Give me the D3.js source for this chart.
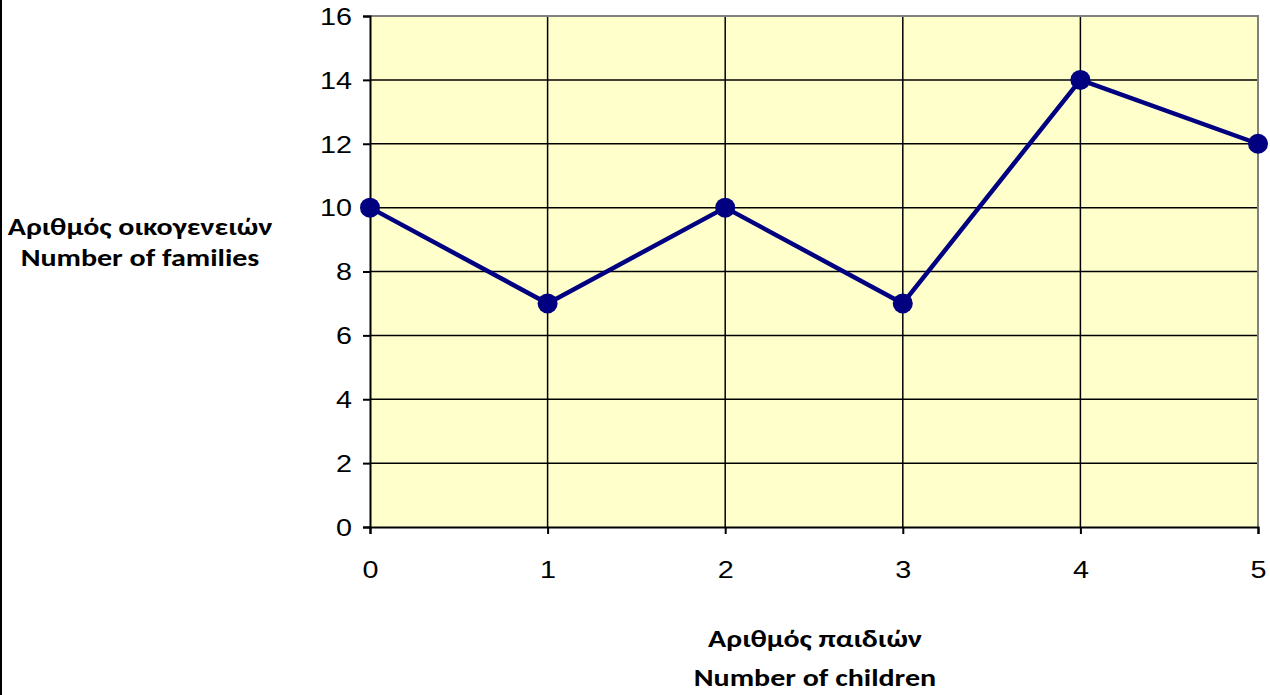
<!DOCTYPE html>
<html>
<head>
<meta charset="utf-8">
<script src="https://cdn.jsdelivr.net/npm/d3@7"></script>
<style>
  html, body { margin: 0; padding: 0; background: #fff; }
  svg { display: block; }
</style>
</head>
<body>
<svg id="chart" width="1270" height="695"></svg>
<script>
// Number of children per family (x) and how many families have that many (y)
const children = [0, 1, 2, 3, 4, 5];
const families = [10, 7, 10, 7, 14, 12];
const yTicks = [0, 2, 4, 6, 8, 10, 12, 14, 16];
const yTitle = ["Αριθμός οικογενειών", "Number of families"];
const xTitle = ["Αριθμός παιδιών", "Number of children"];

const svg = d3.select("#chart");
const plot = { left: 370, right: 1258, top: 16, bottom: 527 };
const stretch = 1.25;      // tick labels are drawn slightly wide
const titleStretch = 1.2;  // same for the axis titles

const x = d3.scaleLinear().domain([0, 5]).range([plot.left, plot.right]);
const y = d3.scaleLinear().domain([0, 16]).range([plot.bottom, plot.top]);

// frame line on the far left
svg.append("rect").attr("x", 0).attr("y", 0).attr("width", 2).attr("height", 695).attr("fill", "#000");

// plot background
svg.append("rect")
  .attr("x", plot.left).attr("y", plot.top)
  .attr("width", plot.right - plot.left).attr("height", plot.bottom - plot.top)
  .attr("fill", "#FFFFCC");

// horizontal gridlines
svg.append("g").selectAll("line").data(yTicks.filter(d => d > 0 && d < 16)).join("line")
  .attr("x1", plot.left).attr("x2", plot.right)
  .attr("y1", d => y(d)).attr("y2", d => y(d))
  .attr("stroke", "#000").attr("stroke-width", 1.5);

// vertical gridlines
svg.append("g").selectAll("line").data(children.filter(d => d > 0 && d < 5)).join("line")
  .attr("x1", d => x(d)).attr("x2", d => x(d))
  .attr("y1", plot.top).attr("y2", plot.bottom)
  .attr("stroke", "#000").attr("stroke-width", 1.5);

// grey top and right border
svg.append("path")
  .attr("d", `M${plot.left},${plot.top}H${plot.right}V${plot.bottom}`)
  .attr("fill", "none").attr("stroke", "#808080").attr("stroke-width", 2);

// y axis
const yAxis = svg.append("g").attr("transform", `translate(${plot.left},0)`)
  .call(d3.axisLeft(y).tickValues(yTicks).tickSize(7).tickFormat(d3.format("d")));
// x axis
const xAxis = svg.append("g").attr("transform", `translate(0,${plot.bottom})`)
  .call(d3.axisBottom(x).tickValues(children).tickSize(7).tickFormat(d3.format("d")));

[yAxis, xAxis].forEach(g => {
  g.select(".domain").attr("stroke", "#000").attr("stroke-width", 2);
  g.selectAll(".tick line").attr("stroke", "#000").attr("stroke-width", 2);
  g.selectAll(".tick text")
    .attr("fill", "#000")
    .style("font-family", "'Liberation Sans', Arial, sans-serif")
    .style("font-size", "23px")
    .attr("transform", `scale(${stretch},1)`);
});
yAxis.selectAll(".tick text").attr("x", -18 / stretch).attr("dy", "0.36em");
xAxis.selectAll(".tick text").attr("y", 51).attr("dy", 0);

// data line
svg.append("path")
  .datum(children.map((c, i) => [c, families[i]]))
  .attr("d", d3.line().x(d => x(d[0])).y(d => y(d[1])))
  .attr("fill", "none").attr("stroke", "#000080").attr("stroke-width", 4.5)
  .attr("stroke-linejoin", "round");

// markers
svg.append("g").selectAll("circle").data(children).join("circle")
  .attr("cx", d => x(d)).attr("cy", (d, i) => y(families[i]))
  .attr("r", 10).attr("fill", "#000080");

// axis titles
const titleFont = "Carlito, Calibri, 'Open Sans', sans-serif";
function title(lines, cx, baselines) {
  svg.append("text").attr("text-anchor", "middle")
    .attr("transform", `translate(${cx},0) scale(${titleStretch},1)`)
    .style("font-family", titleFont).style("font-weight", "bold").style("font-size", "25px")
    .attr("fill", "#000")
    .selectAll("tspan").data(lines).join("tspan")
    .attr("x", 0).attr("y", (d, i) => baselines[i]).text(d => d);
}
title(yTitle, 140, [235, 266]);
title(xTitle, 815, [647, 686]);
</script>
</body>
</html>
